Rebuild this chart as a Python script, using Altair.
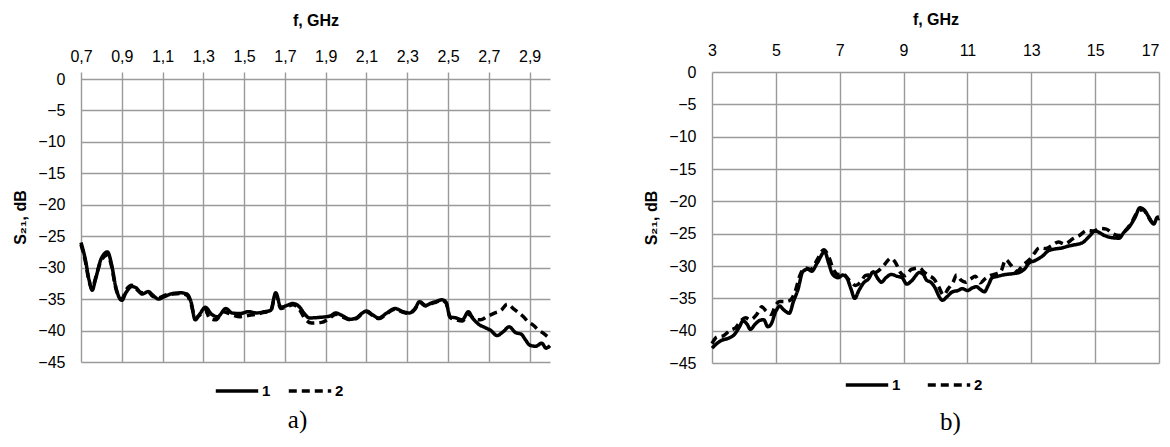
import altair as alt
import pandas as pd

# ---------------- panel a) : 0.7 - 3.0 GHz ----------------
a_f1 = [0.70, 0.72, 0.74, 0.755, 0.77, 0.80, 0.83, 0.85, 0.87, 0.90, 0.92, 0.95, 0.97, 1.00, 1.03,
        1.05, 1.08, 1.11, 1.15, 1.19, 1.22, 1.24, 1.26, 1.28, 1.31, 1.34, 1.37, 1.41, 1.44, 1.48,
        1.52, 1.56, 1.60, 1.63, 1.655, 1.68, 1.71, 1.74, 1.77, 1.80, 1.82, 1.87, 1.92, 1.95, 1.98,
        2.02, 2.05, 2.08, 2.10, 2.13, 2.16, 2.20, 2.24, 2.28, 2.31, 2.34, 2.36, 2.39, 2.42, 2.44,
        2.47, 2.49, 2.51, 2.54, 2.57, 2.60, 2.62, 2.65, 2.68, 2.71, 2.74, 2.77, 2.80, 2.83, 2.86,
        2.88, 2.90, 2.93, 2.96, 2.98, 3.00]
a_s1 = [-26.0, -28.5, -32.0, -33.6, -32.0, -28.5, -27.5, -29.5, -33.0, -35.2, -34.0, -33.0, -33.2, -34.2, -33.8,
        -34.3, -35.0, -34.6, -34.1, -34.0, -34.2, -35.5, -38.3, -37.5, -36.3, -37.4, -37.8, -36.5, -37.2, -37.3,
        -37.0, -37.2, -37.0, -36.8, -34.0, -36.3, -36.0, -35.7, -36.2, -37.5, -38.0, -37.9, -37.7, -37.2, -37.6,
        -38.2, -38.0, -37.2, -36.9, -37.5, -38.0, -37.2, -36.5, -37.0, -37.2, -36.4, -35.4, -36.0, -35.6, -35.4,
        -35.1, -35.5, -37.8, -38.0, -38.3, -37.0, -38.0, -39.0, -39.5, -40.0, -40.8, -40.2, -39.4, -40.3, -40.6,
        -41.5, -42.3, -42.5, -42.0, -42.8, -42.4]

a_f2 = [0.70, 0.72, 0.74, 0.755, 0.77, 0.80, 0.83, 0.85, 0.87, 0.90, 0.92, 0.95, 0.97, 1.00, 1.03,
        1.05, 1.08, 1.11, 1.15, 1.19, 1.22, 1.24, 1.26, 1.28, 1.31, 1.33, 1.36, 1.40, 1.44, 1.48,
        1.52, 1.56, 1.60, 1.63, 1.655, 1.68, 1.71, 1.74, 1.77, 1.80, 1.83, 1.88, 1.92, 1.95, 1.98,
        2.02, 2.05, 2.08, 2.10, 2.13, 2.16, 2.20, 2.24, 2.28, 2.31, 2.34, 2.36, 2.39, 2.42, 2.44,
        2.47, 2.49, 2.51, 2.54, 2.57, 2.60, 2.63, 2.66, 2.69, 2.73, 2.76, 2.79, 2.82, 2.84, 2.87,
        2.89, 2.92, 2.94, 2.97, 3.00]
a_s2 = [-26.3, -28.8, -32.2, -33.4, -31.8, -28.8, -28.0, -29.8, -33.2, -35.0, -33.6, -32.8, -33.4, -34.0, -33.9,
        -34.5, -34.8, -34.4, -34.2, -34.1, -34.4, -35.8, -38.0, -37.6, -36.8, -38.0, -38.3, -37.0, -37.5, -37.8,
        -37.6, -37.4, -37.1, -36.9, -34.3, -36.5, -36.2, -35.9, -36.6, -38.2, -38.8, -38.7, -38.0, -37.4, -37.8,
        -38.3, -38.1, -37.3, -37.0, -37.6, -38.1, -37.3, -36.6, -37.1, -37.3, -36.5, -35.5, -36.1, -35.7, -35.5,
        -35.2, -35.6, -37.9, -38.3, -38.5, -37.4, -38.2, -38.3, -37.8, -37.2, -36.8, -35.8, -36.5, -37.0, -37.8,
        -38.5, -39.2, -39.8, -40.5, -41.3]

a_ticks = [0.7, 0.9, 1.1, 1.3, 1.5, 1.7, 1.9, 2.1, 2.3, 2.5, 2.7, 2.9]

# ---------------- panel b) : 3 - 17 GHz ----------------
b_f1 = [3.00, 3.15, 3.30, 3.50, 3.70, 3.85, 3.97, 4.10, 4.20, 4.35, 4.50, 4.62, 4.75, 4.85, 5.00,
        5.12, 5.25, 5.42, 5.55, 5.70, 5.84, 6.00, 6.12, 6.30, 6.53, 6.65, 6.78, 6.95, 7.10, 7.22,
        7.35, 7.47, 7.60, 7.75, 7.90, 8.05, 8.20, 8.30, 8.45, 8.62, 8.80, 8.95, 9.10, 9.25, 9.50,
        9.62, 9.72, 9.85, 10.00, 10.10, 10.22, 10.35, 10.53, 10.70, 10.84, 11.00, 11.15, 11.28, 11.40, 11.53,
        11.65, 11.78, 11.95, 12.10, 12.22, 12.40, 12.62, 12.80, 12.94, 13.10, 13.34, 13.55, 13.70, 13.97, 14.10,
        14.28, 14.60, 14.80, 15.00, 15.30, 15.50, 15.75, 15.90, 16.06, 16.25, 16.40, 16.55, 16.69, 16.84, 16.94,
        17.00]
b_s1 = [-42.7, -42.0, -41.5, -41.2, -40.6, -39.5, -38.5, -39.0, -39.8, -39.0, -38.4, -38.3, -39.4, -39.0, -37.0,
        -36.2, -36.8, -37.3, -35.5, -33.5, -30.9, -30.5, -30.8, -29.5, -27.8, -29.5, -31.3, -31.8, -31.4, -31.8,
        -33.5, -35.0, -33.8, -32.6, -32.0, -30.9, -32.0, -32.5, -31.8, -31.3, -31.6, -31.8, -32.8, -32.3, -31.0,
        -31.3, -32.2, -32.5, -33.5, -34.6, -35.3, -34.8, -34.0, -33.8, -33.5, -33.8, -33.4, -33.2, -33.6, -34.0,
        -33.0, -31.8, -31.6, -31.4, -31.3, -31.2, -31.0, -30.4, -29.5, -29.2, -28.5, -27.6, -27.4, -27.2, -27.0,
        -26.8, -26.4, -25.5, -24.6, -25.3, -25.6, -25.7, -24.8, -24.0, -22.5, -21.0, -21.4, -22.5, -23.5, -22.5,
        -22.4]

b_f2 = [3.00, 3.15, 3.35, 3.55, 3.75, 3.90, 4.05, 4.20, 4.40, 4.56, 4.70, 4.85, 5.00, 5.12, 5.30,
        5.45, 5.60, 5.75, 5.90, 6.10, 6.30, 6.50, 6.65, 6.80, 6.95, 7.10, 7.30, 7.50, 7.65, 7.80,
        8.00, 8.20, 8.40, 8.60, 8.75, 8.90, 9.05, 9.25, 9.50, 9.65, 9.80, 9.95, 10.10, 10.25, 10.40,
        10.55, 10.66, 10.80, 10.95, 11.10, 11.25, 11.40, 11.55, 11.70, 11.90, 12.05, 12.20, 12.35, 12.55, 12.75,
        12.95, 13.10, 13.25, 13.45, 13.65, 13.85, 14.05, 14.30, 14.50, 14.75, 14.95, 15.15, 15.35, 15.55, 15.75,
        15.95, 16.15, 16.35, 16.50, 16.65, 16.80, 16.95, 17.00]
b_s2 = [-42.0, -41.0, -40.8, -40.0, -39.5, -38.5, -38.0, -38.3, -37.5, -36.3, -37.0, -37.5, -36.0, -35.5, -35.5,
        -35.3, -34.0, -31.5, -30.3, -30.5, -29.0, -27.5, -28.5, -30.5, -31.3, -31.2, -32.2, -33.0, -32.5, -31.5,
        -31.3, -30.8, -29.8, -28.8, -29.5, -31.0, -31.5, -30.5, -30.3, -31.0, -31.5, -32.0, -33.2, -34.5, -33.5,
        -32.5, -31.4, -32.2, -32.5, -32.0, -31.6, -32.6, -32.0, -31.5, -31.2, -30.8, -29.0, -29.8, -30.8, -29.8,
        -29.0, -28.0, -27.2, -27.3, -26.8, -26.3, -26.6, -25.8, -25.3, -24.5, -24.6, -24.2, -24.3, -25.0, -25.3,
        -24.5, -23.2, -21.5, -21.3, -22.3, -23.3, -22.8, -22.6]

b_ticks = [3, 5, 7, 9, 11, 13, 15, 17]
y_ticks = [0, -5, -10, -15, -20, -25, -30, -35, -40, -45]
series_names = ["1", "2"]

FONT = "Liberation Sans"


def make_df(f1, s1, f2, s2):
    d1 = pd.DataFrame({"f": f1, "s": s1, "series": series_names[0]})
    d2 = pd.DataFrame({"f": f2, "s": s2, "series": series_names[1]})
    return pd.concat([d1, d2], ignore_index=True)


def panel(df, xdom, xvals, label_expr, label_align, w, h, ytop, x_title_pad, x_label_pad,
          lx, ly, col_pad, caption, cap_dx, cap_offset, cap_size):
    return alt.Chart(df).mark_line(
        color="black", strokeWidth=3.5, strokeJoin="round", strokeCap="butt",
        interpolate="monotone"
    ).encode(
        x=alt.X("f:Q",
                scale=alt.Scale(domain=xdom, nice=False, zero=False),
                axis=alt.Axis(orient="top", values=xvals, title="f, GHz",
                              labelExpr=label_expr, labelAlign=label_align, grid=True,
                              titlePadding=x_title_pad, labelPadding=x_label_pad,
                              labelFlush=False, labelOverlap=False)),
        y=alt.Y("s:Q",
                scale=alt.Scale(domain=[-45, ytop], nice=False, zero=False),
                axis=alt.Axis(values=y_ticks, title="S₂₁, dB", grid=True,
                              labelPadding=16, titlePadding=9, labelFlush=False,
                              labelOverlap=False)),
        strokeDash=alt.StrokeDash(
            "series:N",
            scale=alt.Scale(domain=series_names, range=[[1, 0], [8, 5]]),
            legend=alt.Legend(orient="none", legendX=lx, legendY=ly, direction="horizontal",
                              title=None, symbolType="stroke", symbolSize=1800,
                              symbolStrokeWidth=3.5, symbolStrokeColor="black",
                              labelFont=FONT, labelFontSize=15, labelFontWeight="bold",
                              labelColor="black", labelOffset=2, columnPadding=col_pad),
        ),
    ).properties(
        width=w, height=h,
        title=alt.TitleParams(text=caption, orient="bottom", font="Liberation Serif",
                              fontSize=cap_size, fontWeight="normal", color="black",
                              dx=cap_dx, offset=cap_offset),
    )


comma_expr = "replace(format(datum.value, '.1f'), '.', ',')"
last_right = {"condition": {"test": "datum.value >= 17", "value": "right"}, "value": "center"}

# left plot: gridded area 283 px tall, extended 7 px above the 0 dB line so
# that its gridlines sit lower than those of the right panel
left = panel(make_df(a_f1, a_s1, a_f2, a_s2), [0.7, 3.0], a_ticks, comma_expr, "center",
             469, 290, 45 * 7 / 283, 20, 8, 133, 296, 10, "a)", -18, 9, 25)
right = panel(make_df(b_f1, b_s1, b_f2, b_s2), [3, 17], b_ticks, "format(datum.value, 'd')",
              last_right, 447, 291, 0, 15, 14, 132, 290, 19, "b)", 15, 17, 25)

chart = alt.hconcat(left, right, spacing=91).resolve_scale(
    strokeDash="independent", x="independent", y="independent"
).properties(
    padding={"left": 4, "top": 3, "right": 0, "bottom": 0}
).configure_view(stroke=None).configure_axis(
    gridColor="#9a9a9a", gridWidth=1.4, domain=False, ticks=False,
    labelFont=FONT, labelFontSize=16, labelColor="black",
    titleFont=FONT, titleFontSize=16, titleFontWeight="bold", titleColor="black"
)

chart.save("out.html", embed_options={"renderer": "svg", "actions": False})
